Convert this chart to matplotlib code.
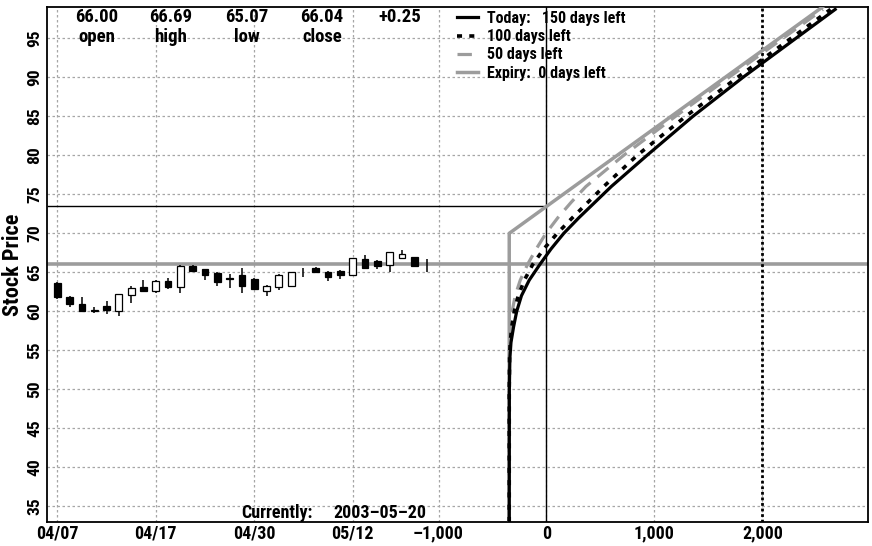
import matplotlib
matplotlib.use('Agg')
import matplotlib.pyplot as plt
from matplotlib import font_manager

# ---------------- data ----------------
date_labels = ['04/07', '04/17', '04/30', '05/12']
date_tick_idx = [0, 8, 16, 24]

opens  = [63.6, 61.9, 61.0, 60.1, 60.7, 60.1, 62.1, 63.1, 62.6, 63.9, 63.1, 65.8, 65.4, 64.9, 64.3,
          64.6, 64.2, 62.6, 63.1, 63.2, 64.95, 65.5, 65.1, 65.2, 64.7, 66.7, 66.4, 66.0, 66.9, 67.0, 66.00]
highs  = [63.7, 62.0, 61.8, 60.6, 61.3, 62.2, 63.2, 64.0, 64.0, 64.3, 65.9, 65.9, 65.4, 65.0, 64.8,
          65.5, 64.3, 63.4, 64.8, 65.0, 65.5, 65.7, 65.2, 65.3, 66.9, 67.2, 66.6, 67.6, 67.8, 67.0, 66.69]
lows   = [61.6, 60.6, 59.9, 59.8, 59.6, 59.4, 61.1, 62.5, 62.4, 62.8, 62.3, 65.2, 64.0, 63.3, 63.0,
          62.4, 62.8, 62.0, 62.7, 63.2, 64.4, 64.9, 63.9, 64.2, 64.7, 65.6, 65.4, 65.1, 66.9, 65.8, 65.07]
closes = [61.8, 60.9, 60.0, 60.2, 60.2, 62.2, 63.0, 62.6, 63.9, 63.1, 65.8, 65.2, 64.7, 63.7, 64.2,
          63.2, 62.9, 63.3, 64.7, 65.0, 64.95, 65.0, 64.4, 64.7, 66.9, 65.6, 65.8, 67.6, 67.3, 65.8, 66.04]

pl_ticks = [-1000, 0, 1000, 2000]
pl_ticklabels = ['\u20131,000', '0', '1,000', '2,000']
price_ticks = [35, 40, 45, 50, 55, 60, 65, 70, 75, 80, 85, 90, 95]

curve_prices = [33.0, 50, 54, 56, 58, 60, 62, 64, 66, 68, 70, 72, 74, 76, 80, 85, 90, 95, 98.7]
today_pl = [-345, -344, -339, -329, -305, -276, -232, -160, -62, 42, 160, 300, 450, 600, 931, 1356, 1820, 2310, 2673]
d100_pl  = [-345, -345, -342, -336, -322, -298, -262, -205, -128, -25, 100, 240, 385, 530, 840, 1290, 1770, 2265, 2630]
d50_pl   = [-345, -345, -344, -341, -334, -318, -290, -243, -176, -95, -5, 105, 230, 365, 715, 1195, 1690, 2190, 2560]
expiry_prices = [33.0, 70.0, 99.0]
expiry_pl = [-345, -345, 2555]

current_price = 66.04
breakeven_price = 73.45
header_values = ['66.00', '66.69', '65.07', '66.04', '+0.25']
header_names = ['open', 'high', 'low', 'close', '']
current_date = '2003\u201305\u201320'

# ---------------- fonts ----------------
avail = {f.name for f in font_manager.fontManager.ttflist}
cands = ['Liberation Sans Narrow', 'Roboto Condensed', 'Noto Sans Condensed',
         'DejaVu Sans Condensed', 'Open Sans Condensed', 'Noto Sans', 'Liberation Sans']
fam = next((c for c in cands if c in avail), 'DejaVu Sans')
plt.rcParams['font.family'] = [fam, 'DejaVu Sans']
plt.rcParams['font.weight'] = 'heavy'
plt.rcParams['font.stretch'] = 'condensed'

W, H = 872, 546
L, R, T, B = 46.7, 868.0, 7.3, 522.0
fig = plt.figure(figsize=(W / 100, H / 100), dpi=100)
ax = fig.add_axes([L / W, 1 - B / H, (R - L) / W, (B - T) / H])
ax.set_xlim(-4628, 2977)
ax.set_ylim(33.0, 98.97)
axd = ax.twiny()
axd.set_xlim(-0.861, 65.86)

grid_kw = dict(color='#a6a6a6', linestyle=(0, (2, 2)), linewidth=0.9)

# bottom layer: candles + date grid + horizontal grid
ax.set_zorder(axd.get_zorder() + 1)
ax.patch.set_visible(False)
axd.patch.set_visible(True)
axd.patch.set_facecolor('white')
for s in axd.spines.values():
    s.set_visible(False)
axd.yaxis.set_visible(True)
axd.tick_params(axis='y', left=False, right=False, labelleft=False, labelright=False)
axd.set_xticks(date_tick_idx, date_labels)
axd.xaxis.tick_bottom()
axd.grid(True, **grid_kw)
axd.axhline(current_price, color='#9c9c9c', lw=2.6, zorder=1.8)

idx = list(range(len(opens)))
axd.vlines(idx, lows, highs, color='black', lw=1.1, zorder=2)
b_idx, b_bot, b_h, b_col = [], [], [], []
for i, o, c in zip(idx, opens, closes):
    if abs(c - o) < 0.05:
        continue
    b_idx.append(i)
    b_bot.append(min(o, c))
    b_h.append(abs(c - o))
    b_col.append('black' if c < o else 'white')
axd.bar(b_idx, b_h, bottom=b_bot, width=0.55, color=b_col, edgecolor='black', linewidth=0.9, zorder=3)

# top layer: P/L curves
ax.set_xticks(pl_ticks, pl_ticklabels)
ax.set_yticks(price_ticks)
ax.grid(True, axis='x', **grid_kw)
ax.hlines(breakeven_price, ax.get_xlim()[0], 0, color='black', lw=1.0, zorder=2)
ax.axvline(0, color='black', lw=1.0, zorder=2)
ax.axvline(2000, color='black', lw=2.0, linestyle=(0, (1, 1)), zorder=2)

ax.plot(today_pl, curve_prices, color='black', lw=2.3, label='Today:   150 days left', zorder=5)
ax.plot(d100_pl, curve_prices, color='black', lw=2.6, linestyle=(0, (1.4, 2.0)), label='100 days left', zorder=5)
ax.plot(d50_pl, curve_prices, color='#9c9c9c', lw=2.3, linestyle=(0, (4.5, 2.8)), label='50 days left', zorder=4)
ax.plot(expiry_pl, expiry_prices, color='#9c9c9c', lw=2.5, label='Expiry:  0 days left', zorder=4)

for s in ax.spines.values():
    s.set_linewidth(1.3)

fs = 13
ax.tick_params(length=0, labelsize=fs, pad=2)
axd.tick_params(axis='x', length=0, labelsize=fs, pad=2)
ax.tick_params(axis='y', labelrotation=90, pad=3, labelsize=12.5)
for lab in ax.get_yticklabels():
    lab.set_va('center')
ax.set_ylabel('Stock Price', fontsize=16, fontweight='heavy')
ax.yaxis.set_label_coords((24 - L) / (R - L), 0.5)

leg = ax.legend(loc='upper left', bbox_to_anchor=((457 - L) / (R - L), (B - 11) / (B - T)),
                frameon=False, fontsize=11.5, handlelength=1.3, handletextpad=0.55,
                labelspacing=0.2, borderpad=0, borderaxespad=0)

fx = lambda px: (px - L) / (R - L)
fy = lambda py: (B - py) / (B - T)
header_x = [97, 171, 247, 322, 400]
for x, v, n in zip(header_x, header_values, header_names):
    ax.text(fx(x), fy(17), v, transform=ax.transAxes, ha='center', va='center', fontsize=13.5)
    if n:
        ax.text(fx(x), fy(37), n, transform=ax.transAxes, ha='center', va='center', fontsize=13.5)

ax.text(fx(313), fy(513), 'Currently:', transform=ax.transAxes, ha='right', va='center', fontsize=fs)
ax.text(fx(333), fy(513), current_date, transform=ax.transAxes, ha='left', va='center', fontsize=fs)

fig.savefig('out.png', dpi=100)
